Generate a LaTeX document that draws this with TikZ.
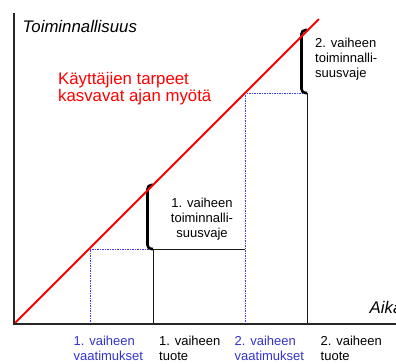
\documentclass[tikz,border=0pt]{standalone}
\usepackage{fontspec}
\setmainfont{Liberation Sans}
\definecolor{reqblue}{RGB}{51,51,204}
\definecolor{dotblue}{RGB}{60,60,255}
\begin{document}
\begin{tikzpicture}[x=1bp,y=-1bp,
  axis/.style={line width=1.6bp, draw=black!85},
  need/.style={line width=2bp, draw=red},
  plan/.style={line width=1bp, draw=dotblue, dash pattern=on 1.5bp off 1bp},
  done/.style={line width=1bp, draw=black!90},
  gapbrace/.style={line width=2.6bp, draw=black, rounded corners=4bp},
  big/.style={inner sep=0pt, anchor=base west, font=\fontsize{16.8bp}{19bp}\selectfont},
  small/.style={inner sep=0pt, anchor=base west, font=\fontsize{13bp}{15bp}\selectfont},
  smallc/.style={inner sep=0pt, anchor=base, font=\fontsize{13bp}{15bp}\selectfont},
]
\useasboundingbox (0,0) rectangle (396,364);
% key points
\coordinate (O) at (14,324);
\coordinate (Ytop) at (14,13);
\coordinate (Xend) at (400,324);
\coordinate (Rend) at (319,19);
\coordinate (R1) at (90,249);
\coordinate (R1b) at (90,324);
\coordinate (P1) at (153,249);
\coordinate (P1b) at (153,324);
\coordinate (P1top) at (153,185);
\coordinate (R2) at (245,93);
\coordinate (R2m) at (245,249);
\coordinate (R2b) at (245,324);
\coordinate (P2) at (307,93);
\coordinate (P2b) at (307,324);
\coordinate (P2top) at (307,30);
% blue requirement lines
\draw[plan] (R1b) -- (R1) -- (P1);
\draw[plan] (R2b) -- (R2) -- (P2);
% product lines
\draw[done] (P1b) -- (P1) -- (R2m);
\draw[done] (P2b) -- (P2);
% gap braces
\draw[gapbrace] (P1top) -- (147.5,185) -- (147.5,249) -- (P1);
\draw[gapbrace] (P2top) -- (301.5,30) -- (301.5,93) -- (P2);
% needs line
\draw[need] (O) -- (Rend);
% axes
\draw[axis] (Ytop) -- (O) -- (Xend);
% texts
\node[big, font=\fontsize{16.8bp}{19bp}\selectfont\itshape] (ylab) at (22.5,32.3) {Toiminnallisuus};
\node[big, font=\fontsize{16.8bp}{19bp}\selectfont\itshape] (xlab) at (369.5,313) {Aika};
\node[big, text=red] (n1) at (58,84.3) {Käyttäjien tarpeet};
\node[big, text=red] (n2) at (58,101.5) {kasvavat ajan myötä};
\node[smallc] (g1a) at (202,207) {1. vaiheen};
\node[smallc] (g1b) at (202,222) {toiminnalli-};
\node[smallc] (g1c) at (202,237) {suusvaje};
\node[small] (g2a) at (315,47) {2. vaiheen};
\node[small] (g2b) at (315,62) {toiminnalli-};
\node[small] (g2c) at (315,77) {suusvaje};
\node[small, text=reqblue] (b1a) at (73.5,345) {1. vaiheen};
\node[small, text=reqblue] (b1b) at (73.5,360) {vaatimukset};
\node[small] (b2a) at (159,345) {1. vaiheen};
\node[small] (b2b) at (159,360) {tuote};
\node[small, text=reqblue] (b3a) at (234.5,345) {2. vaiheen};
\node[small, text=reqblue] (b3b) at (234.5,360) {vaatimukset};
\node[small] (b4a) at (320.5,345) {2. vaiheen};
\node[small] (b4b) at (320.5,360) {tuote};
\end{tikzpicture}
\end{document}
